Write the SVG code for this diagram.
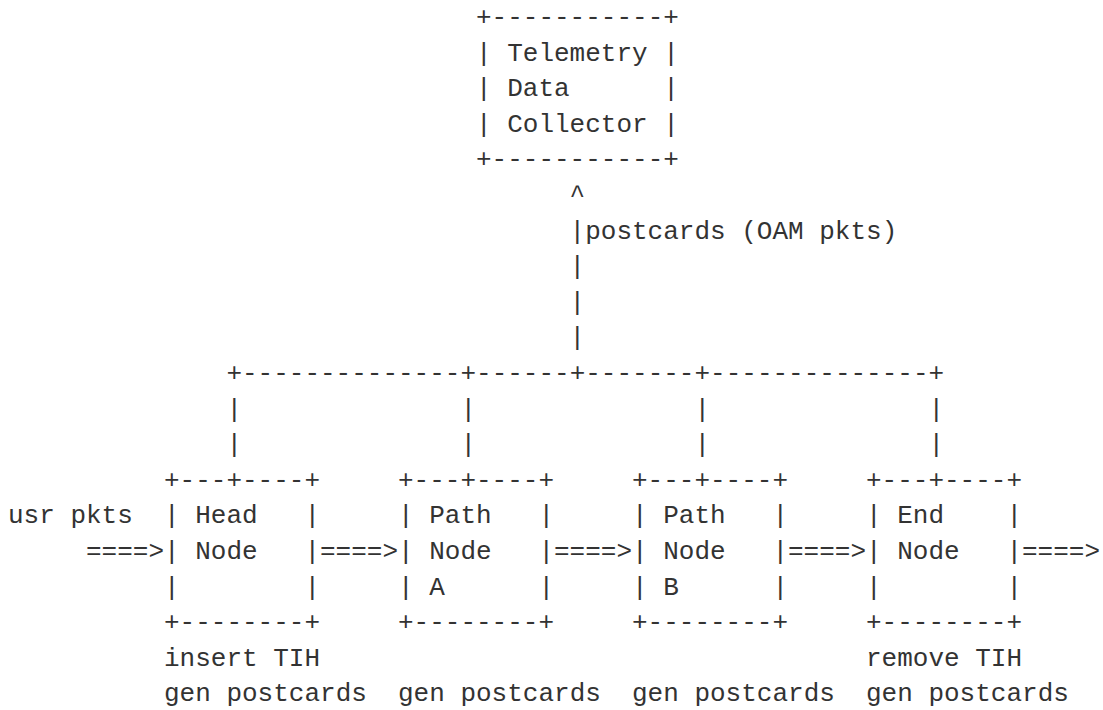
<svg xmlns="http://www.w3.org/2000/svg" width="1103" height="710" viewBox="0 0 1103 710">
<style>
text{font-family:"Liberation Mono","DejaVu Sans Mono",monospace;font-size:26px;fill:#333;white-space:pre}
</style>
<rect width="1103" height="710" fill="#fff"/>
<g id="collector" xml:space="preserve">
<text x="476" y="25">+-----------+</text>
<text x="476" y="60.6">| Telemetry |</text>
<text x="476" y="96.2">| Data      |</text>
<text x="476" y="131.8">| Collector |</text>
<text x="476" y="167.4">+-----------+</text>
</g>
<g id="connectors" xml:space="preserve">
<text x="569.6" y="203">^</text>
<text x="569.6" y="238.6">|postcards (OAM pkts)</text>
<text x="569.6" y="274.2">|</text>
<text x="569.6" y="309.8">|</text>
<text x="569.6" y="345.4">|</text>
<text x="226.4" y="381">+--------------+------+-------+--------------+</text>
<text x="226.4" y="416.6">|              |              |              |</text>
<text x="226.4" y="452.2">|              |              |              |</text>
<text x="8" y="523.4">usr pkts</text>
<text x="86" y="559">====&gt;</text>
<text x="320" y="559">====&gt;</text>
<text x="554" y="559">====&gt;</text>
<text x="788" y="559">====&gt;</text>
<text x="1022" y="559">====&gt;</text>
</g>
<g id="head-node" xml:space="preserve">
<text x="164" y="487.8">+---+----+</text>
<text x="164" y="523.4">| Head   |</text>
<text x="164" y="559">| Node   |</text>
<text x="164" y="594.6">|        |</text>
<text x="164" y="630.2">+--------+</text>
<text x="164" y="665.8">insert TIH</text>
<text x="164" y="701.4">gen postcards</text>
</g>
<g id="path-node-a" xml:space="preserve">
<text x="398" y="487.8">+---+----+</text>
<text x="398" y="523.4">| Path   |</text>
<text x="398" y="559">| Node   |</text>
<text x="398" y="594.6">| A      |</text>
<text x="398" y="630.2">+--------+</text>
<text x="398" y="701.4">gen postcards</text>
</g>
<g id="path-node-b" xml:space="preserve">
<text x="632" y="487.8">+---+----+</text>
<text x="632" y="523.4">| Path   |</text>
<text x="632" y="559">| Node   |</text>
<text x="632" y="594.6">| B      |</text>
<text x="632" y="630.2">+--------+</text>
<text x="632" y="701.4">gen postcards</text>
</g>
<g id="end-node" xml:space="preserve">
<text x="866" y="487.8">+---+----+</text>
<text x="866" y="523.4">| End    |</text>
<text x="866" y="559">| Node   |</text>
<text x="866" y="594.6">|        |</text>
<text x="866" y="630.2">+--------+</text>
<text x="866" y="665.8">remove TIH</text>
<text x="866" y="701.4">gen postcards</text>
</g>
</svg>
